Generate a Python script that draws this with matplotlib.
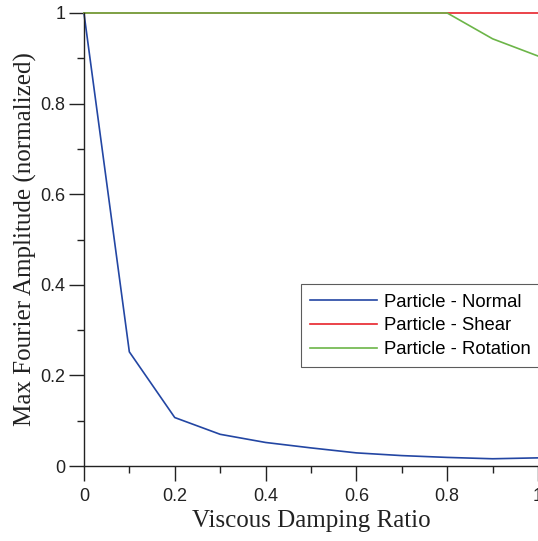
import numpy as np
import matplotlib.pyplot as plt
from matplotlib.ticker import MultipleLocator, FuncFormatter

# Datos
damping = [0.0, 0.1, 0.2, 0.3, 0.4, 0.5, 0.6, 0.7, 0.8, 0.9, 1.0]
normal = [1.0, 0.252, 0.107, 0.070, 0.052, 0.040, 0.029, 0.023, 0.019, 0.016, 0.018]
shear = [1.0, 1.0, 1.0, 1.0, 1.0, 1.0, 1.0, 1.0, 1.0, 1.0, 1.0]
rotation = [1.0, 1.0, 1.0, 1.0, 1.0, 1.0, 1.0, 1.0, 1.0, 0.943, 0.905]

labels = ["Particle - Normal", "Particle - Shear", "Particle - Rotation"]
colores = ["#2346a3", "#e8222b", "#6cb548"]


def etiqueta(v, pos):
    # 0 y 1 sin decimales, el resto con uno
    if abs(v - round(v)) < 1e-9:
        return str(int(round(v)))
    return f"{v:.1f}"


fig = plt.figure(figsize=(5.38, 5.41), dpi=100)
ax = fig.add_axes([0.156, 0.1386, 0.844, 0.8374])

ax.plot(damping, normal, color=colores[0], lw=1.2, label=labels[0], clip_on=False)
ax.plot(damping, shear, color=colores[1], lw=1.2, label=labels[1], clip_on=False)
ax.plot(damping, rotation, color=colores[2], lw=1.2, label=labels[2], clip_on=False)

ax.set_xlim(0, 1)
ax.set_ylim(0, 1)
ax.spines["top"].set_visible(False)
ax.spines["right"].set_visible(False)
for s in ["left", "bottom"]:
    ax.spines[s].set_linewidth(1.0)
    ax.spines[s].set_color("#222222")

ax.xaxis.set_major_locator(MultipleLocator(0.2))
ax.xaxis.set_minor_locator(MultipleLocator(0.1))
ax.yaxis.set_major_locator(MultipleLocator(0.2))
ax.yaxis.set_minor_locator(MultipleLocator(0.1))
ax.xaxis.set_major_formatter(FuncFormatter(etiqueta))
ax.yaxis.set_major_formatter(FuncFormatter(etiqueta))

ax.tick_params(which="major", length=10.5, width=1.0, color="#222222", direction="out")
ax.tick_params(which="minor", length=5, width=1.0, color="#222222", direction="out")
ax.tick_params(axis="x", pad=5)
ax.tick_params(axis="y", pad=3)
for t in ax.get_xticklabels() + ax.get_yticklabels():
    t.set_fontfamily("Liberation Sans")
    t.set_fontsize(13)
    t.set_color("#222222")

ax.set_xlabel("Viscous Damping Ratio", fontfamily="Liberation Serif", fontsize=18, color="#222222", labelpad=4)
ax.set_ylabel("Max Fourier Amplitude (normalized)", fontfamily="Liberation Serif", fontsize=18, color="#222222", labelpad=2)

leg = ax.legend(loc="lower left", bbox_to_anchor=(0.478, 0.218), fancybox=False,
                edgecolor="#333333", handlelength=3.6, handletextpad=0.4,
                borderpad=0.5, labelspacing=0.36, borderaxespad=0,
                prop={"family": "Liberation Sans", "size": 13.3})
leg.get_frame().set_linewidth(0.8)

fig.savefig("out.png", dpi=100)
